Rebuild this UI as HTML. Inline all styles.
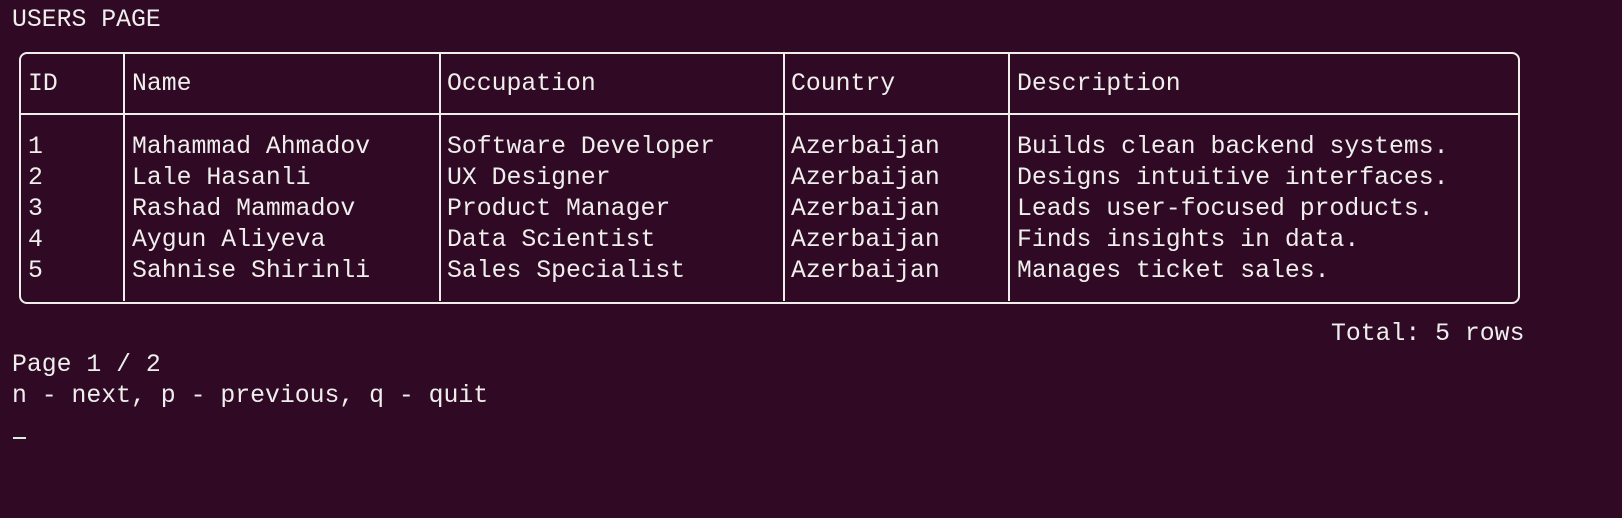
<!DOCTYPE html>
<html><head><meta charset="utf-8"><style>
html,body{margin:0;padding:0;}
body{width:1622px;height:518px;background:#300a24;position:relative;overflow:hidden;
font-family:"Liberation Mono","DejaVu Sans Mono",monospace;font-size:24.8px;color:#eeeeec;}
.t{position:absolute;line-height:31px;white-space:pre;}
.box{position:absolute;left:19px;top:52px;width:1497px;height:248px;border:2px solid #eeeeec;border-radius:8px;}
.v{position:absolute;top:53px;width:2px;height:248px;background:#eeeeec;}
.h{position:absolute;left:20px;top:113px;width:1498px;height:2px;background:#eeeeec;}
</style></head><body>
<div class="t" style="left:12px;top:5px">USERS PAGE</div>
<div class="box"></div>
<div class="v" style="left:123px"></div>
<div class="v" style="left:439px"></div>
<div class="v" style="left:783px"></div>
<div class="v" style="left:1008px"></div>
<div class="h"></div>
<div class="t" style="left:28px;top:69px">ID</div>
<div class="t" style="left:132px;top:69px">Name</div>
<div class="t" style="left:447px;top:69px">Occupation</div>
<div class="t" style="left:791px;top:69px">Country</div>
<div class="t" style="left:1017px;top:69px">Description</div>

<div class="t" style="left:28px;top:132px">1
2
3
4
5</div>
<div class="t" style="left:132px;top:132px">Mahammad Ahmadov
Lale Hasanli
Rashad Mammadov
Aygun Aliyeva
Sahnise Shirinli</div>
<div class="t" style="left:447px;top:132px">Software Developer
UX Designer
Product Manager
Data Scientist
Sales Specialist</div>
<div class="t" style="left:791px;top:132px">Azerbaijan
Azerbaijan
Azerbaijan
Azerbaijan
Azerbaijan</div>
<div class="t" style="left:1017px;top:132px">Builds clean backend systems.
Designs intuitive interfaces.
Leads user-focused products.
Finds insights in data.
Manages ticket sales.</div>

<div class="t" style="left:1331px;top:319px">Total: 5 rows</div>
<div class="t" style="left:12px;top:350px">Page 1 / 2</div>
<div class="t" style="left:12px;top:381px">n - next, p - previous, q - quit</div>
<div style="position:absolute;left:13px;top:437px;width:13px;height:2px;background:#d8efe0"></div>
</body></html>
